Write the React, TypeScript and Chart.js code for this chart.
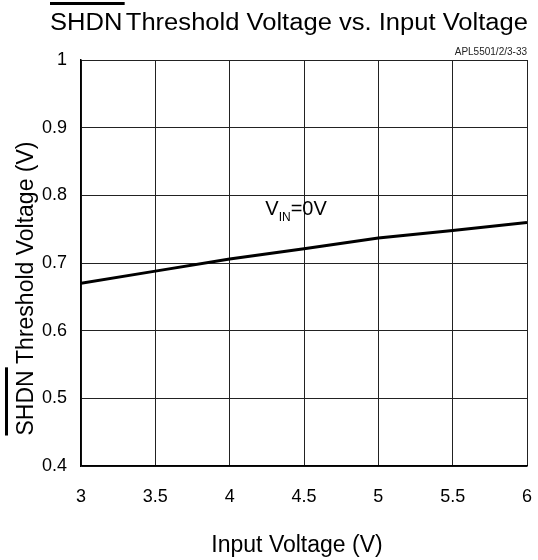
import React, { useEffect, useRef } from "react";
import { Chart, registerables } from "chart.js";

Chart.register(...registerables);

const inputVoltage = [3, 3.5, 4, 4.5, 5, 5.5, 6];
const thresholdVoltage = [0.670, 0.688, 0.706, 0.721, 0.737, 0.748, 0.760];
const xTicks = [3, 3.5, 4, 4.5, 5, 5.5, 6];
const yTicks = [0.4, 0.5, 0.6, 0.7, 0.8, 0.9, 1];
const titleText = "Threshold Voltage vs. Input Voltage";
const overlineWord = "SHDN";
const yTitleRest = " Threshold Voltage (V)";
const xTitleText = "Input Voltage (V)";
const partNumber = "APL5501/2/3-33";
const annotation = { x: 4.24, y: 0.7705, main: "V", sub: "IN", tail: "=0V" };

const FONT = '"Liberation Sans", Arial, sans-serif';

const textPlugin = {
  id: "customText",
  afterDraw(chart: any) {
    const ctx = chart.ctx;
    const area = chart.chartArea;
    ctx.save();
    ctx.fillStyle = "#000";
    ctx.strokeStyle = "#000";

    // Title (stretched horizontally to span 50..528)
    ctx.font = `23px ${FONT}`;
    ctx.textBaseline = "alphabetic";
    ctx.textAlign = "left";
    const wWord = ctx.measureText(overlineWord).width;
    const gap = 3;
    const wRest = ctx.measureText(titleText).width;
    const total = wWord + gap + wRest;
    const left = 50;
    const right = 528;
    const sxScale = (right - left) / total;
    ctx.save();
    ctx.translate(left, 30);
    ctx.scale(sxScale, 1);
    ctx.fillText(overlineWord, 0, 0);
    ctx.fillText(titleText, wWord + gap, 0);
    ctx.restore();
    ctx.lineWidth = 3;
    ctx.beginPath();
    ctx.moveTo(left, 3.5);
    ctx.lineTo(left + (wWord + 2) * sxScale, 3.5);
    ctx.stroke();

    // part number
    ctx.font = `10px ${FONT}`;
    ctx.textAlign = "right";
    ctx.fillStyle = "#222";
    ctx.fillText(partNumber, area.right, 55);
    ctx.fillStyle = "#000";

    // Y title
    ctx.font = `23px ${FONT}`;
    const yw1 = ctx.measureText(overlineWord).width;
    const yw2 = ctx.measureText(yTitleRest).width;
    const ytotal = yw1 + yw2;
    ctx.save();
    ctx.translate(33, 288.5);
    ctx.rotate(-Math.PI / 2);
    ctx.textAlign = "left";
    const sx = -ytotal / 2;
    ctx.fillText(overlineWord, sx, 0);
    ctx.fillText(yTitleRest, sx + yw1, 0);
    ctx.lineWidth = 3;
    ctx.beginPath();
    ctx.moveTo(sx, -26.5);
    ctx.lineTo(sx + yw1 + 3, -26.5);
    ctx.stroke();
    ctx.restore();

    // X title
    ctx.font = `23px ${FONT}`;
    ctx.textAlign = "center";
    ctx.fillText(xTitleText, 297, 552);

    // annotation
    const ax = chart.scales.x.getPixelForValue(annotation.x);
    const ay = chart.scales.y.getPixelForValue(annotation.y);
    ctx.textAlign = "left";
    ctx.font = `20px ${FONT}`;
    ctx.fillText(annotation.main, ax, ay);
    let cx = ax + ctx.measureText(annotation.main).width;
    ctx.font = `12px ${FONT}`;
    ctx.fillText(annotation.sub, cx, ay + 6);
    cx += ctx.measureText(annotation.sub).width;
    ctx.font = `20px ${FONT}`;
    ctx.fillText(annotation.tail, cx, ay);
    ctx.restore();
  },
};

export default function App() {
  const ref = useRef<HTMLCanvasElement | null>(null);
  useEffect(() => {
    document.body.style.margin = "0";
    const canvas = ref.current!;
    const chart = new Chart(canvas, {
      type: "line",
      data: {
        datasets: [
          {
            data: inputVoltage.map((x, i) => ({ x, y: thresholdVoltage[i] })),
            borderColor: "#000",
            borderWidth: 3,
            pointRadius: 0,
            tension: 0,
            fill: false,
          },
        ],
      },
      options: {
        animation: false,
        responsive: false,
        maintainAspectRatio: false,
        layout: { padding: { top: 60, right: 11, left: 0, bottom: 0 } },
        plugins: { legend: { display: false }, tooltip: { enabled: false }, title: { display: false } },
        scales: {
          x: {
            type: "linear",
            min: 3,
            max: 6,
            afterBuildTicks: (s: any) => {
              s.ticks = xTicks.map((v) => ({ value: v }));
            },
            afterFit: (s: any) => {
              s.height = 94;
              s.paddingLeft = 0;
              s.paddingRight = 0;
            },
            grid: { color: "#222", lineWidth: 1, drawTicks: false },
            border: { color: "#000", width: 1.5 },
            ticks: {
              color: "#000",
              font: { family: FONT, size: 18 },
              padding: 20,
              maxRotation: 0,
              autoSkip: false,
              callback: (v: any) => String(Number(v)),
            },
          },
          y: {
            type: "linear",
            min: 0.4,
            max: 1,
            afterBuildTicks: (s: any) => {
              s.ticks = yTicks.map((v) => ({ value: v }));
            },
            afterFit: (s: any) => {
              s.width = 81;
              s.paddingTop = 0;
              s.paddingBottom = 0;
            },
            grid: { color: "#222", lineWidth: 1, drawTicks: false },
            border: { color: "#000", width: 1.5 },
            ticks: {
              color: "#000",
              font: { family: FONT, size: 18 },
              padding: 14,
              autoSkip: false,
              callback: (v: any) => String(Number(v)),
            },
          },
        },
      },
      plugins: [textPlugin],
    });
    return () => chart.destroy();
  }, []);
  return (
    <div style={{ position: "relative", width: 538, height: 560, background: "#fff" }}>
      <canvas ref={ref} width={538} height={560} style={{ display: "block" }} />
    </div>
  );
}
